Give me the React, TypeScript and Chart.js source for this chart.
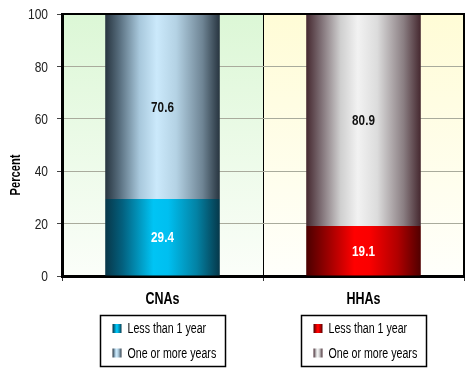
import React, { useEffect, useRef } from "react";
import { Chart, registerables } from "chart.js";

Chart.register(...registerables);

const categories = ["CNAs", "HHAs"];
const seriesLabels = ["Less than 1 year", "One or more years"];
const lessThanOneYear = [29.4, 19.1];
const oneOrMoreYears = [70.6, 80.9];
const yTicks = [0, 20, 40, 60, 80, 100];
const yAxisTitle = "Percent";

const FONT = "'Liberation Sans', Arial, sans-serif";
const BAR_FRACTION = 0.57;

// gradient stops per category, per series: [position, colour]
const lessStops: [number, string][][] = [
  [[0, "#083648"], [0.15, "#03607e"], [0.42, "#00c4f4"], [0.55, "#00bff0"], [0.8, "#0382a4"], [1, "#06384a"]],
  [[0, "#4a0000"], [0.15, "#8a0000"], [0.42, "#ff0000"], [0.55, "#fb0000"], [0.8, "#b00000"], [1, "#500000"]],
];
const moreStops: [number, string][][] = [
  [[0, "#27343f"], [0.12, "#566c7c"], [0.3, "#a8c8dc"], [0.45, "#cbe9fb"], [0.62, "#b4d2e4"], [0.85, "#6e8494"], [1, "#27343f"]],
  [[0, "#45282f"], [0.12, "#7a6a70"], [0.3, "#cfcfcf"], [0.45, "#f2f2f2"], [0.62, "#dcdcdc"], [0.85, "#8a7e82"], [1, "#45282f"]],
];
const labelColors = [["#ffffff", "#111111"], ["#ffffff", "#111111"]];
const fallback = ["#00bff0", "#c8e8fa"];

function makeGrad(ctx: CanvasRenderingContext2D, x0: number, x1: number, stops: [number, string][]) {
  const g = ctx.createLinearGradient(x0, 0, x1, 0);
  stops.forEach(([p, c]) => g.addColorStop(p, c));
  return g;
}

function narrowText(
  ctx: CanvasRenderingContext2D,
  text: string,
  x: number,
  y: number,
  font: string,
  color: string,
  align: CanvasTextAlign = "center",
  sx = 0.8
) {
  ctx.save();
  ctx.font = font;
  ctx.fillStyle = color;
  ctx.textAlign = align;
  ctx.textBaseline = "middle";
  ctx.translate(x, y);
  ctx.scale(sx, 1);
  ctx.fillText(text, 0, 0);
  ctx.restore();
}

function barColor(stopsSet: [number, string][][], fb: string) {
  return (c: any) => {
    const chart = c.chart;
    const i = c.dataIndex;
    if (!chart.chartArea || i === undefined || !chart.scales.x) return fb;
    const xs = chart.scales.x;
    const cx = xs.getPixelForValue(i);
    const half = ((xs.width / categories.length) * BAR_FRACTION) / 2;
    return makeGrad(chart.ctx, cx - half, cx + half, stopsSet[i]);
  };
}

const bgPlugin = {
  id: "bgPlugin",
  beforeDraw(chart: any) {
    const { ctx, chartArea: a } = chart;
    const w = a.width / categories.length;
    const cols = [["#dcf7d6", "#fbfef9"], ["#fffcd6", "#fffffb"]];
    categories.forEach((_, i) => {
      const g = ctx.createLinearGradient(0, a.top, 0, a.bottom);
      g.addColorStop(0, cols[i][0]);
      g.addColorStop(1, cols[i][1]);
      ctx.fillStyle = g;
      ctx.fillRect(a.left + i * w, a.top, w, a.height);
    });
  },
  afterDatasetsDraw(chart: any) {
    const { ctx } = chart;
    chart.data.datasets.forEach((ds: any, di: number) => {
      const meta = chart.getDatasetMeta(di);
      meta.data.forEach((el: any, i: number) => {
        narrowText(ctx, ds.data[i].toFixed(1), el.x, (el.y + el.base) / 2 + 1, `bold 15px ${FONT}`, labelColors[i][di], "center", 0.78);
      });
    });
  },
  afterDraw(chart: any) {
    const { ctx, chartArea: a, scales } = chart;
    const xs = scales.x;
    const ys = scales.y;
    ctx.save();
    // top and right borders
    ctx.strokeStyle = "#000";
    ctx.lineWidth = 2;
    ctx.beginPath();
    ctx.moveTo(a.left, a.top);
    ctx.lineTo(a.right, a.top);
    ctx.lineTo(a.right, a.bottom);
    ctx.stroke();
    ctx.restore();

    // y tick labels
    yTicks.forEach((v) => {
      narrowText(ctx, String(v), 48, ys.getPixelForValue(v) + 1, `15px ${FONT}`, "#222", "right", 0.8);
    });

    // x category labels
    categories.forEach((c, i) => {
      narrowText(ctx, c, xs.getPixelForValue(i), 300, `bold 16px ${FONT}`, "#000", "center", 0.78);
    });

    // y-axis title
    ctx.save();
    ctx.translate(16, 175);
    ctx.rotate(-Math.PI / 2);
    narrowText(ctx, yAxisTitle, 0, 0, `bold 14px ${FONT}`, "#000", "center", 0.8);
    ctx.restore();

    // per-category legends
    ctx.save();
    categories.forEach((_, i) => {
      const cx = xs.getPixelForValue(i);
      const bw = 125, bh = 51;
      const left = Math.round(cx - bw / 2) + 0.5;
      const top = 315.5;
      ctx.lineWidth = 1.5;
      ctx.strokeStyle = "#000";
      ctx.fillStyle = "#fff";
      ctx.fillRect(left, top, bw, bh);
      ctx.strokeRect(left, top, bw, bh);
      const rows = [
        { label: seriesLabels[0], stops: lessStops[i], y: 328.5 },
        { label: seriesLabels[1], stops: moreStops[i], y: 353 },
      ];
      rows.forEach((r) => {
        const sx = left + 12, sy = r.y - 4.5;
        ctx.fillStyle = makeGrad(ctx, sx, sx + 9, r.stops);
        ctx.fillRect(sx, sy, 9, 9);
        narrowText(ctx, r.label, left + 27, r.y + 1, `14px ${FONT}`, "#000", "left", 0.76);
      });
    });
    ctx.restore();
  },
};

export default function App() {
  const ref = useRef<HTMLCanvasElement>(null);
  useEffect(() => {
    document.body.style.margin = "0";
    const chart = new Chart(ref.current!, {
      type: "bar",
      data: {
        labels: categories,
        datasets: [
          {
            label: seriesLabels[0],
            data: lessThanOneYear,
            backgroundColor: barColor(lessStops, fallback[0]),
            borderWidth: 0,
            barPercentage: BAR_FRACTION,
            categoryPercentage: 1,
          },
          {
            label: seriesLabels[1],
            data: oneOrMoreYears,
            backgroundColor: barColor(moreStops, fallback[1]),
            borderWidth: 0,
            barPercentage: BAR_FRACTION,
            categoryPercentage: 1,
          },
        ],
      },
      options: {
        responsive: false,
        animation: false,
        layout: { padding: { left: 0, right: 11, top: 14, bottom: 0 } },
        plugins: { legend: { display: false }, tooltip: { enabled: false } },
        scales: {
          x: {
            stacked: true,
            afterFit: (s: any) => { s.height = 99; },
            grid: { offset: true, color: "#000", lineWidth: 1, tickLength: 5, drawOnChartArea: true, tickColor: "#333" },
            border: { color: "#000", width: 3 },
            ticks: { display: false },
          },
          y: {
            stacked: true,
            min: 0,
            max: 100,
            afterFit: (s: any) => { s.width = 62; },
            afterBuildTicks: (s: any) => { s.ticks = yTicks.map((v) => ({ value: v })); },
            grid: { color: "#a9ab9c", lineWidth: 1, tickLength: 5, tickColor: "#444" },
            border: { color: "#000", width: 3 },
            ticks: { display: false },
          },
        },
      },
      plugins: [bgPlugin],
    });
    return () => chart.destroy();
  }, []);
  return (
    <div style={{ width: 475, height: 375 }}>
      <canvas ref={ref} width={475} height={375} />
    </div>
  );
}
